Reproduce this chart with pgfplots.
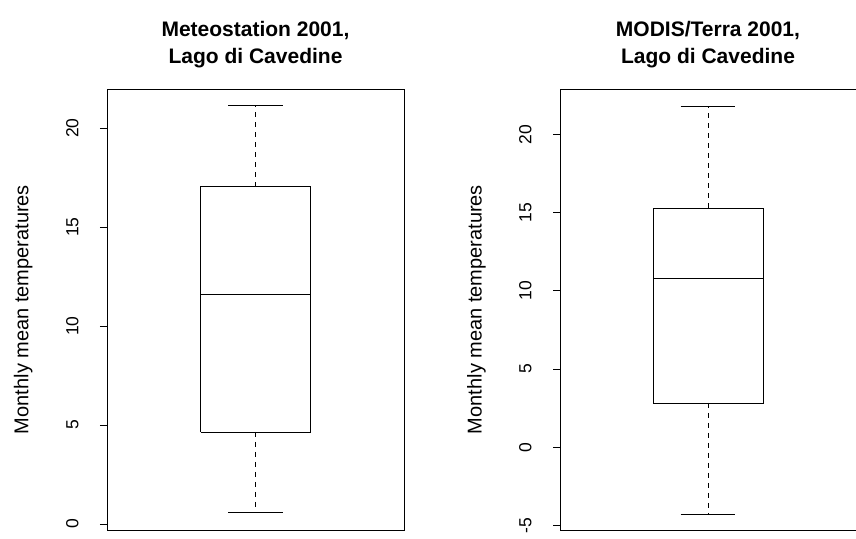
\documentclass[border=0pt]{standalone}
\usepackage{pgfplots}
\pgfplotsset{compat=1.18}
\usepackage{fontspec}
\setmainfont{Liberation Sans}
\begin{document}
\begin{tikzpicture}[x=1pt,y=1pt]
\pgfplotsset{rbox/.style={
  scale only axis, width=297pt, height=441pt,
  xmin=0.5, xmax=1.5, xtick=\empty,
  ytick pos=left, tick align=outside, major tick length=7pt,
  axis line style={line width=0.9pt}, every tick/.style={line width=0.9pt, black},
  yticklabel style={rotate=90, anchor=south, yshift=18pt, font=\fontsize{17.5}{20}\selectfont},
  /pgf/number format/assume math mode=true,
  ylabel style={at={(axis description cs:-0.282,0.5)}, anchor=center, font=\fontsize{20}{22}\selectfont},
  ylabel={Monthly mean temperatures},
  title style={align=center, font=\fontsize{21}{27}\bfseries\selectfont, yshift=12pt},
  cycle list={{black, solid, line width=0.8pt, mark=none}},
}}
\begin{axis}[rbox, at={(107pt,8pt)}, anchor=south west, ymin=-0.3, ymax=21.97,
  ytick={0,5,10,15,20},
  title={Meteostation 2001,\\Lago di Cavedine}]
\addplot coordinates {(0.815,4.65) (1.185,4.65) (1.185,17.04) (0.815,17.04) (0.815,4.65)};
\addplot coordinates {(0.815,11.6) (1.185,11.6)};
\addplot[black, line width=0.8pt, dash pattern=on 5pt off 5pt] coordinates {(1,17.04) (1,21.15)};
\addplot[black, line width=0.8pt, dash pattern=on 5pt off 5pt] coordinates {(1,4.65) (1,0.62)};
\addplot coordinates {(0.9075,21.15) (1.0925,21.15)};
\addplot coordinates {(0.9075,0.62) (1.0925,0.62)};
\end{axis}
\begin{axis}[rbox, at={(560pt,8pt)}, anchor=south west, width=296pt, ymin=-5.28, ymax=22.9,
  ytick={-5,0,5,10,15,20},
  title={MODIS/Terra 2001,\\Lago di Cavedine}]
\addplot coordinates {(0.815,2.84) (1.185,2.84) (1.185,15.3) (0.815,15.3) (0.815,2.84)};
\addplot coordinates {(0.815,10.8) (1.185,10.8)};
\addplot[black, line width=0.8pt, dash pattern=on 5pt off 5pt] coordinates {(1,15.3) (1,21.8)};
\addplot[black, line width=0.8pt, dash pattern=on 5pt off 5pt] coordinates {(1,2.84) (1,-4.24)};
\addplot coordinates {(0.9075,21.8) (1.0925,21.8)};
\addplot coordinates {(0.9075,-4.24) (1.0925,-4.24)};
\end{axis}
\pgfresetboundingbox
\path (0,0) rectangle (856pt,538pt);
\end{tikzpicture}
\end{document}
